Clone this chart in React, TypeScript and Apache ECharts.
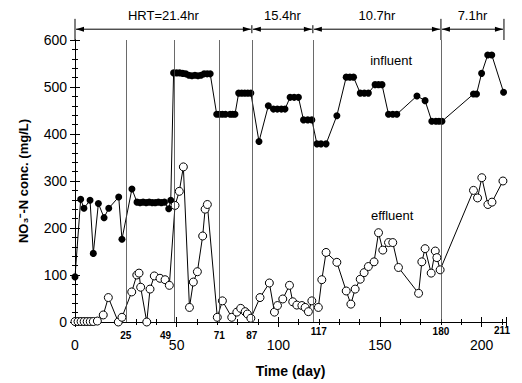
import React, { useEffect, useRef } from 'react';
import * as echarts from 'echarts';

// [day, NO3-N mg/L]
const influentData: [number, number][] = [
  [0, 96], [2.8, 261], [4.4, 242], [7.4, 259], [9, 146], [11.5, 252], [14.3, 222], [16.6, 242],
  [21.5, 266], [23.1, 176], [28, 283], [30.5, 255], [32, 254], [33.5, 255], [35, 254], [36.5, 255],
  [38, 254], [39.5, 254], [41, 255], [42.5, 254], [44, 255], [46.1, 241], [47.1, 259],
  [48.5, 530], [50, 530], [51.5, 530], [53, 529], [54.5, 528], [56, 525], [57.5, 524], [59, 525],
  [60.5, 524], [62, 525], [63.5, 528], [65, 528], [66.5, 528],
  [69.7, 442], [71, 442], [72.5, 442], [74, 442], [76.3, 442], [77.5, 442], [78.7, 442],
  [80.5, 487], [82, 487], [83.5, 487], [85, 487], [86.5, 487],
  [90.5, 384], [95.1, 460], [97.6, 453], [99.5, 453], [101.5, 453], [103.3, 453],
  [105.8, 478], [107.8, 478], [109.9, 478], [112.4, 430], [114.5, 430], [116.5, 430],
  [119, 379], [121, 379], [123.5, 379], [128.8, 439], [133.4, 521], [135.2, 521], [137, 521],
  [140.3, 487], [142.3, 487], [144.3, 487], [147.6, 505], [149.3, 505], [151, 505],
  [154.2, 442], [156.3, 442], [158.3, 442], [168.2, 481], [172.2, 471],
  [175.5, 427], [177.5, 427], [179, 427], [180.5, 427],
  [196, 485], [197.5, 485], [200, 529], [203, 568], [205, 568], [210.8, 489],
];

const effluentData: [number, number][] = [
  [0, 1], [1.5, 1], [3, 1], [4.5, 1], [6, 1], [7.5, 1], [9, 1], [11, 2], [13.9, 15], [16.4, 52],
  [21.3, 0], [23.1, 10], [27.9, 64], [30.4, 100], [31.5, 104], [32.3, 74], [35.3, 0], [36.9, 70],
  [39, 98], [41.8, 93], [44.3, 90], [46.4, 78], [49.2, 248], [51.3, 278], [53.3, 330], [56.3, 31],
  [58.2, 85], [60.2, 107], [62.8, 183], [64, 240], [65.1, 250], [70, 10], [72.5, 45], [77.1, 10],
  [79.6, 21], [81.5, 29], [83.7, 22], [84.8, 17], [86.5, 8], [91, 52], [95.6, 83], [98.1, 21],
  [99.6, 35], [102.2, 49], [105.5, 78], [107.1, 43], [109.1, 36], [111.6, 35], [113.2, 31],
  [114.8, 22], [116.5, 45], [119.7, 31], [121.4, 90], [123.5, 148], [128.8, 127], [133.4, 66],
  [135.7, 38], [137.8, 70], [140.3, 91], [142.2, 105], [144.3, 118], [147.1, 128], [149.3, 190],
  [151.4, 153], [154.2, 169], [156.3, 169], [159.1, 116], [169, 61], [170.6, 128], [172.2, 156],
  [175.2, 104], [177.2, 151], [178, 137], [179.6, 111], [196, 280], [198, 264], [200.1, 307],
  [203.1, 250], [205.1, 255], [210.5, 300],
];

const phaseDays = [25, 49, 71, 87, 117, 180];
const dayLabels = ['25', '49', '71', '87', '117', '180', '211'];
const hrtBounds = [0, 87, 117, 180, 211];
const hrtLabels = ['HRT=21.4hr', '15.4hr', '10.7hr', '7.1hr'];
const seriesNames = ['influent', 'effluent'];

const FONT = '"Liberation Sans", Arial, Helvetica, sans-serif';

export default function App() {
  const ref = useRef<HTMLDivElement>(null);

  useEffect(() => {
    const chart = echarts.init(ref.current!, null, { renderer: 'svg' });
    const axisLineStyle = { color: '#000', width: 1 };
    const tickCfg = { show: true, inside: true, length: 5, lineStyle: { color: '#000' } };
    const minorCfg = { show: true, splitNumber: 5, length: 3, lineStyle: { color: '#000' } };

    chart.setOption({
      animation: false,
      backgroundColor: '#fff',
      grid: { left: 75, right: 16, top: 40, bottom: 60 },
      xAxis: [
        {
          type: 'value', min: 0, max: 212, interval: 50, position: 'bottom',
          axisLine: { show: true, lineStyle: axisLineStyle },
          axisTick: tickCfg, minorTick: minorCfg, splitLine: { show: false },
          axisLabel: {
            color: '#000', fontSize: 14, fontFamily: FONT, margin: 16,
            formatter: (v: number) => (v % 50 === 0 ? String(v) : ''),
          },
          name: 'Time (day)', nameLocation: 'middle', nameGap: 42,
          nameTextStyle: { color: '#000', fontSize: 14, fontWeight: 'bold', fontFamily: FONT },
        },
        {
          type: 'value', min: 0, max: 212, interval: 50, position: 'top',
          axisLine: { show: true, lineStyle: axisLineStyle },
          axisTick: tickCfg, minorTick: minorCfg, splitLine: { show: false },
          axisLabel: { show: false },
        },
      ],
      yAxis: [
        {
          type: 'value', min: 0, max: 600, interval: 100, position: 'left',
          axisLine: { show: true, lineStyle: axisLineStyle },
          axisTick: tickCfg, minorTick: minorCfg, splitLine: { show: false },
          axisLabel: { color: '#000', fontSize: 14, fontFamily: FONT, margin: 8 },
          name: 'NO₃⁻-N conc. (mg/L)', nameLocation: 'middle', nameGap: 45,
          nameTextStyle: { color: '#000', fontSize: 13, fontWeight: 'bold', fontFamily: FONT },
        },
        {
          type: 'value', min: 0, max: 600, interval: 100, position: 'right',
          axisLine: { show: true, lineStyle: axisLineStyle },
          axisTick: tickCfg, minorTick: minorCfg, splitLine: { show: false },
          axisLabel: { show: false },
        },
      ],
      series: [
        {
          name: seriesNames[0], type: 'line', data: influentData,
          symbol: 'circle', symbolSize: 7,
          itemStyle: { color: '#000' },
          lineStyle: { color: '#000', width: 1 },
          markLine: {
            silent: true, symbol: ['none', 'none'], label: { show: false },
            lineStyle: { color: '#444', width: 0.8, type: 'solid' },
            data: phaseDays.map((d) => ({ xAxis: d })),
          },
          z: 3,
        },
        {
          name: seriesNames[1], type: 'line', data: effluentData,
          symbol: 'circle', symbolSize: 8,
          itemStyle: { color: '#fff', borderColor: '#000', borderWidth: 1 },
          lineStyle: { color: '#000', width: 1 },
          z: 4,
        },
      ],
    });

    const px = (d: number, v: number) => chart.convertToPixel({ gridIndex: 0 }, [d, v]) as number[];
    const g: any[] = [];
    const txt = (x: number, y: number, text: string, size: number, bold = false) => ({
      type: 'text', x, y, z: 100,
      style: {
        text, fill: '#000', fontSize: size, fontFamily: FONT, fontWeight: bold ? 'bold' : 'normal',
        align: 'center', verticalAlign: 'middle',
      },
    });

    // HRT arrows
    const arrowV = 623;
    for (let i = 0; i < hrtBounds.length - 1; i++) {
      const a = px(hrtBounds[i], arrowV);
      const b = px(hrtBounds[i + 1], arrowV);
      const y = a[1];
      g.push({ type: 'line', z: 100, shape: { x1: a[0] + 1, y1: y, x2: b[0] - 1, y2: y }, style: { stroke: '#000', lineWidth: 1 } });
      g.push({ type: 'polygon', z: 100, shape: { points: [[a[0] + 1, y], [a[0] + 9, y - 2.5], [a[0] + 9, y + 2.5]] }, style: { fill: '#000' } });
      g.push({ type: 'polygon', z: 100, shape: { points: [[b[0] - 1, y], [b[0] - 9, y - 2.5], [b[0] - 9, y + 2.5]] }, style: { fill: '#000' } });
      const m = px((hrtBounds[i] + hrtBounds[i + 1]) / 2, 653);
      g.push(txt(m[0], m[1], hrtLabels[i], 13));
    }
    hrtBounds.forEach((d) => {
      const top = px(d, 645);
      const bot = px(d, 600);
      const mid = px(d, arrowV);
      const tall = d === 0 || d === 180 || d === 211;
      g.push({
        type: 'line', z: 100,
        shape: tall
          ? { x1: top[0], y1: top[1], x2: bot[0], y2: bot[1] }
          : { x1: mid[0], y1: mid[1] - 4, x2: mid[0], y2: mid[1] + 4 },
        style: { stroke: '#000', lineWidth: 1 },
      });
    });

    // day labels under the axis
    const dx = [0, -9, 0, 0, 6, 0, -2];
    const dy = [13, 13, 13, 13, 9, 9, 8];
    dayLabels.forEach((s, i) => {
      const p = px(Number(s), 0);
      g.push(txt(p[0] + dx[i], p[1] + dy[i], s, 10, true));
    });

    // series annotations
    const pi = px(155.5, 557);
    g.push(txt(pi[0], pi[1], seriesNames[0], 13));
    const pe = px(156, 227);
    g.push(txt(pe[0], pe[1], seriesNames[1], 13));

    chart.setOption({ graphic: g });
    return () => chart.dispose();
  }, []);

  return <div ref={ref} style={{ position: 'fixed', left: 0, top: 0, width: 522, height: 383 }} />;
}
